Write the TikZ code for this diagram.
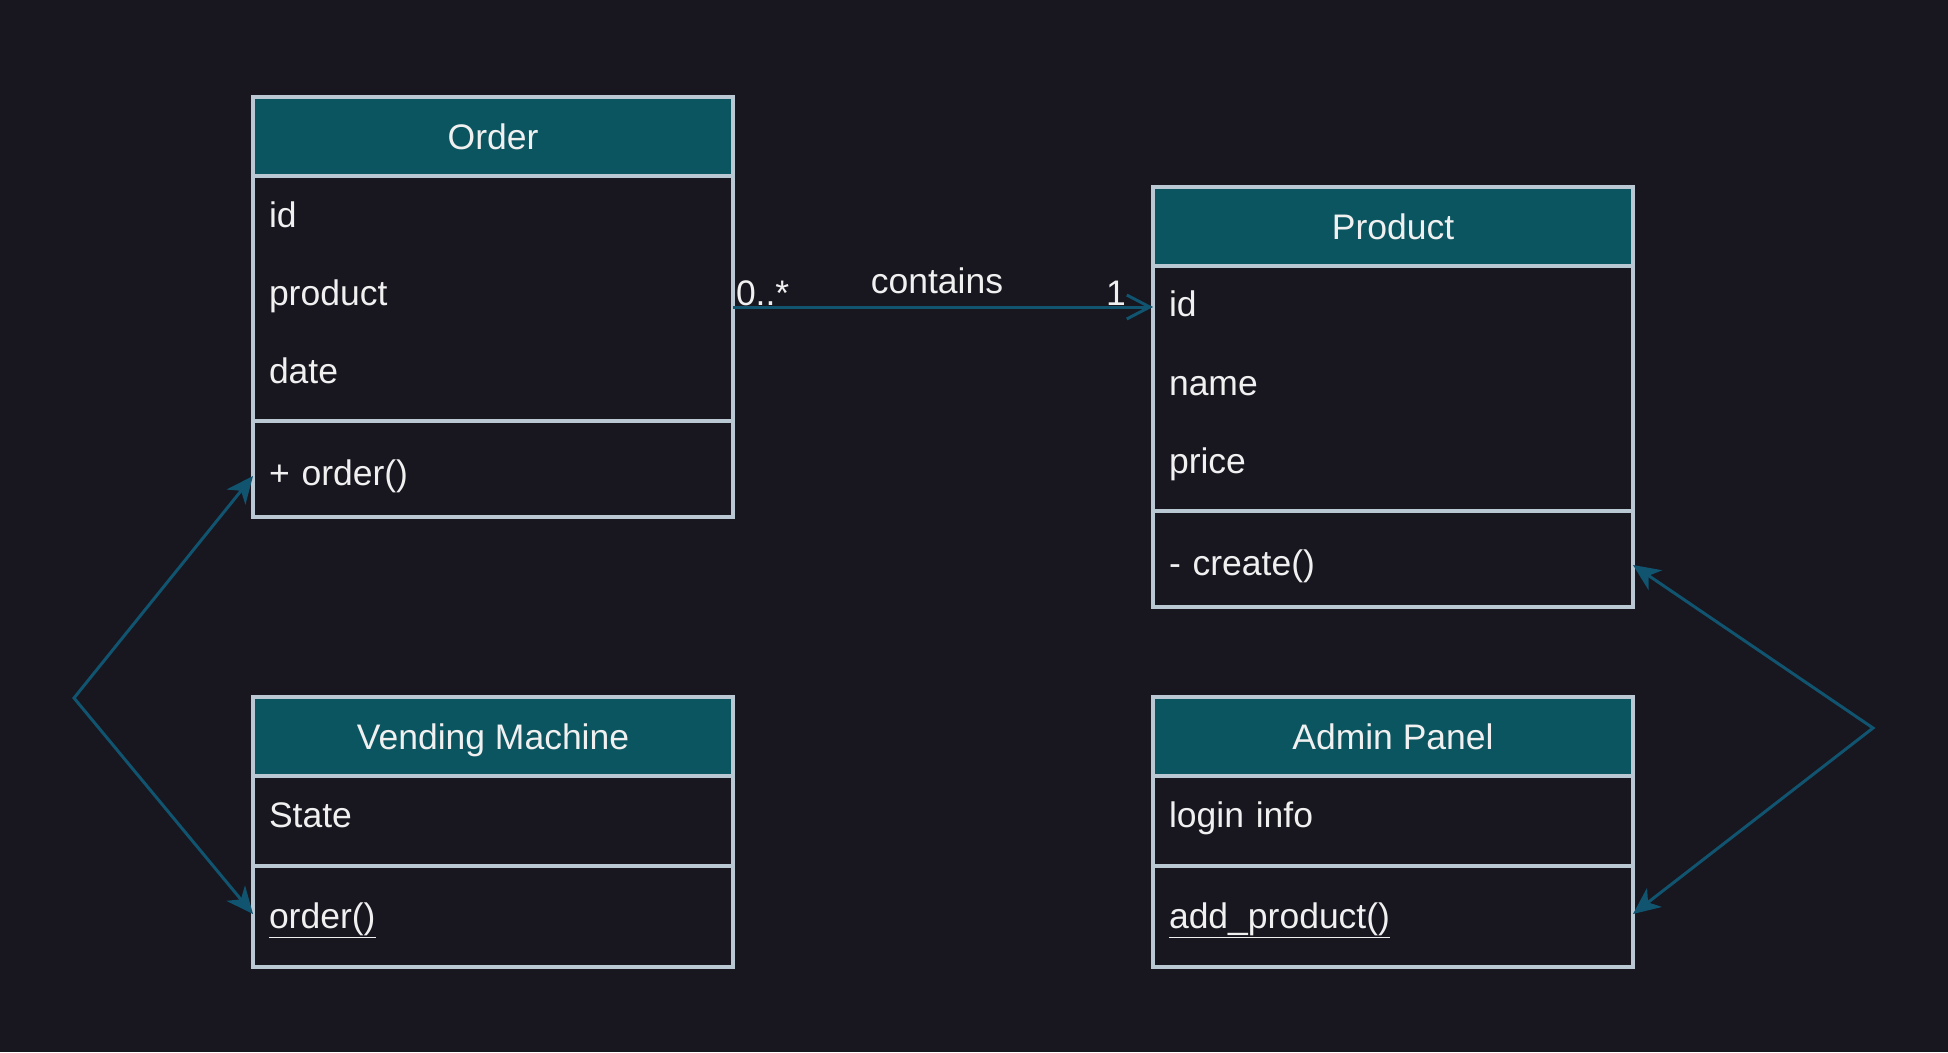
\documentclass[tikz,border=0pt]{standalone}
\usepackage{fontspec}
\setmainfont{Liberation Sans}
\usetikzlibrary{arrows.meta,calc}
\definecolor{bg}{HTML}{18161F}
\definecolor{hdrfill}{HTML}{0B5560}
\definecolor{bord}{HTML}{BAC8D3}
\definecolor{arr}{HTML}{10546F}
\definecolor{txt}{HTML}{F0F0F0}
\tikzset{
  every node/.style={font=\fontsize{35.5}{40}\selectfont, text=txt},
  clsbox/.style={draw=bord, line width=3.1pt, anchor=north west, minimum width=480pt, inner sep=0pt, outer sep=0pt},
  headbox/.style={clsbox, fill=hdrfill, minimum height=79pt, text height=31pt, text depth=6pt},
  compbox/.style={clsbox, fill=bg},
  rowtxt/.style={anchor=west, text width=448pt, inner xsep=16pt, inner ysep=0pt, outer sep=0pt, align=left, text height=31pt, text depth=6pt},
  lbl/.style={inner sep=0pt, outer sep=0pt},
  flow/.style={draw=arr, line width=3pt, line join=miter, {Stealth[length=27pt,width=24pt,inset=8pt]}-{Stealth[length=27pt,width=24pt,inset=8pt]}},
  assoc/.style={draw=arr, line width=3pt, -{Straight Barb[length=23pt,width=24pt]}}
}
\begin{document}
\begin{tikzpicture}[x=1pt,y=-1pt]
\fill[bg] (0,0) rectangle (1948,1052);
\useasboundingbox (0,0) rectangle (1948,1052);

% Order
\node[compbox, minimum height=245pt] (oattr) at (253,176) {};
\node[compbox, minimum height=96pt] (ometh) at (253,421) {};
\node[headbox] (ohead) at (253,97) {Order};
\node[rowtxt] (oid) at (253,215) {id};
\node[rowtxt] (oprod) at (253,293) {product};
\node[rowtxt] (odate) at (253,371) {date};
\node[rowtxt] (oord) at (253,473) {+ order()};

% Product
\node[compbox, minimum height=245pt] (pattr) at (1153,266) {};
\node[compbox, minimum height=96pt] (pmeth) at (1153,511) {};
\node[headbox] (phead) at (1153,187) {Product};
\node[rowtxt] (pid) at (1153,304) {id};
\node[rowtxt] (pname) at (1153,383) {name};
\node[rowtxt] (pprice) at (1153,461) {price};
\node[rowtxt] (pcreate) at (1153,563) {- create()};

% Vending Machine
\node[compbox, minimum height=90pt] (vattr) at (253,776) {};
\node[compbox, minimum height=101pt] (vmeth) at (253,866) {};
\node[headbox] (vhead) at (253,697) {Vending Machine};
\node[rowtxt] (vstate) at (253,815) {State};
\node[rowtxt] (vord) at (253,916) {\underline{order()}};

% Admin Panel
\node[compbox, minimum height=90pt] (aattr) at (1153,776) {};
\node[compbox, minimum height=101pt] (ameth) at (1153,866) {};
\node[headbox] (ahead) at (1153,697) {Admin Panel};
\node[rowtxt] (alogin) at (1153,815) {login info};
\node[rowtxt] (aadd) at (1153,916) {\underline{add\_product()}};

% contains association
\draw[assoc] ([yshift=-3pt]oattr.east |- pid.west) -- ([yshift=-3pt]pid.west);
\node[lbl, anchor=base west] (mult0) at (736,305) {0..*};
\node[lbl, anchor=base] (contains) at (937,293) {contains};
\node[lbl, anchor=base west] (mult1) at (1106,305) {1};

% side connectors
\coordinate (lv) at (74,698);
\coordinate (rv) at (1873,728);
\draw[flow] ([yshift=-3pt]oord.west) -- (lv) -- ([yshift=2pt]vord.west);
\draw[flow] ([yshift=-2pt]pcreate.east) -- (rv) -- ([yshift=2pt]aadd.east);
\end{tikzpicture}
\end{document}
